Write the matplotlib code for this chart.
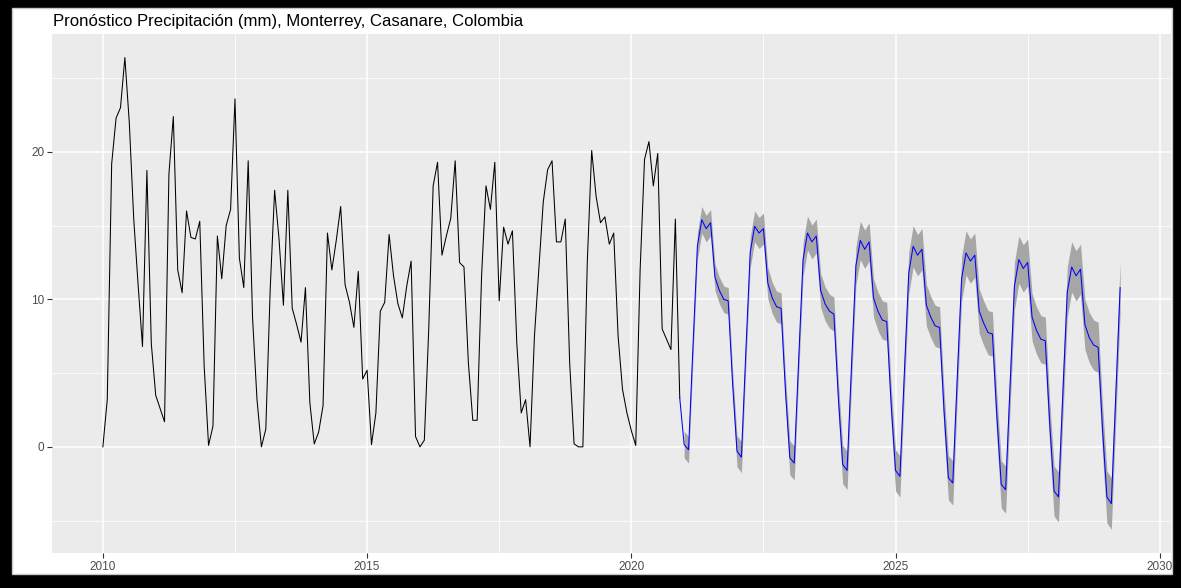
#precipitation forecast chart: observed series + forecast with prediction band

import numpy as np
import matplotlib.pyplot as plt
from matplotlib.patches import Rectangle

plt.rcParams['font.family'] = ['Liberation Sans', 'DejaVu Sans']

#monthly precipitation (mm), Jan 2010 - Dec 2020
observed = [
    0.0, 3.2, 19.2, 22.3, 23.0, 26.4, 22.0, 15.5, 11.0, 6.8, 18.75, 7.0,
    3.5, 2.6, 1.7, 18.5, 22.4, 12.0, 10.45, 16.0, 14.2, 14.1, 15.3, 5.5,
    0.1, 1.4, 14.3, 11.4, 15.0, 16.1, 23.6, 12.8, 10.8, 19.4, 8.7, 3.2,
    0.0, 1.2, 10.7, 17.4, 14.1, 9.6, 17.4, 9.4, 8.3, 7.1, 10.8, 3.0,
    0.2, 1.0, 2.8, 14.5, 12.0, 14.0, 16.3, 11.0, 9.8, 8.1, 11.9, 4.6,
    5.2, 0.15, 2.3, 9.2, 9.8, 14.4, 11.6, 9.7, 8.75, 10.9, 12.6, 0.7,
    0.0, 0.45, 8.0, 17.7, 19.3, 13.0, 14.3, 15.5, 19.4, 12.5, 12.2, 5.7,
    1.8, 1.8, 11.6, 17.7, 16.1, 19.3, 9.9, 14.9, 13.75, 14.65, 7.0, 2.3,
    3.2, 0.0, 7.5, 12.0, 16.6, 18.8, 19.4, 13.9, 13.9, 15.45, 5.7, 0.2,
    0.0, 0.0, 12.5, 20.1, 17.0, 15.2, 15.6, 13.75, 14.5, 7.5, 3.9, 2.3,
    1.1, 0.1, 12.0, 19.5, 20.7, 17.7, 19.9, 8.0, 7.3, 6.6, 15.45, 3.3,
]

#forecast (mm), Jan 2021 - Apr 2029
forecast = [
    0.15, -0.2, 6.8, 13.6, 15.4, 14.8, 15.2, 11.5, 10.6, 10.0, 9.9, 4.3,
    -0.3, -0.7, 6.4, 13.2, 14.96, 14.5, 14.8, 11.1, 10.1, 9.5, 9.4, 3.8,
    -0.75, -1.1, 5.9, 12.7, 14.5, 13.9, 14.3, 10.6, 9.7, 9.2, 9.0, 3.4,
    -1.2, -1.6, 5.5, 12.3, 14.0, 13.4, 13.9, 10.1, 9.2, 8.6, 8.5, 2.9,
    -1.6, -2.0, 5.0, 11.8, 13.6, 13.0, 13.4, 9.6, 8.8, 8.2, 8.1, 2.5,
    -2.1, -2.45, 4.6, 11.4, 13.15, 12.6, 13.0, 9.2, 8.4, 7.75, 7.65, 2.1,
    -2.55, -2.9, 4.1, 10.9, 12.7, 12.1, 12.5, 8.8, 7.9, 7.3, 7.2, 1.6,
    -3.0, -3.4, 3.7, 10.5, 12.2, 11.6, 12.05, 8.3, 7.4, 6.9, 6.75, 1.2,
    -3.4, -3.85, 3.4, 10.8,
]

#half width of the prediction band, one value per forecast year
band_half = [0.9, 1.05, 1.15, 1.3, 1.4, 1.5, 1.6, 1.7, 1.75]

start_year = 2010
x_ticks = [2010, 2015, 2020, 2025, 2030]
y_ticks = [0, 10, 20]
title = "Pronóstico Precipitación (mm), Monterrey, Casanare, Colombia"

t_obs = start_year + np.arange(len(observed)) / 12
t_fc = t_obs[-1] + (np.arange(len(forecast)) + 1) / 12
half = np.repeat(band_half, 12)[:len(forecast)]
lo = np.array(forecast) - half
hi = np.array(forecast) + half

W, H = 1181, 588
fig = plt.figure(figsize=(W / 100, H / 100), dpi=100)
fig.patch.set_facecolor('black')
#white page inside the black frame (behind the axes)
fig.add_artist(Rectangle((12 / W, 14 / H), 1160 / W, 566 / H, transform=fig.transFigure,
                         facecolor='white', edgecolor='#c8c8c8', lw=1, zorder=-10))

ax = fig.add_axes([52 / W, 35 / H, 1119 / W, 519 / H])
ax.set_facecolor('#EBEBEB')

ax.fill_between(t_fc, lo, hi, color='#A6A6A6', lw=0, zorder=2)
ax.plot(t_obs, observed, color='black', lw=0.75, zorder=3)
ax.plot(np.r_[t_obs[-1], t_fc], np.r_[observed[-1], forecast], color='blue', lw=0.75, zorder=4)

#ggplot style 5% expansion
x0, x1 = t_obs[0], t_fc[-1]
y0, y1 = min(lo.min(), min(observed)), max(hi.max(), max(observed))
ax.set_xlim(x0 - 0.05 * (x1 - x0), x1 + 0.05 * (x1 - x0))
ax.set_ylim(y0 - 0.05 * (y1 - y0), y1 + 0.05 * (y1 - y0))

ax.set_xticks(x_ticks)
ax.set_xticks([v + 2.5 for v in x_ticks[:-1]], minor=True)
ax.set_yticks(y_ticks)
ax.set_yticks([-5, 5, 15, 25], minor=True)
ax.set_axisbelow(True)
ax.grid(which='major', color='white', lw=1.1)
ax.grid(which='minor', color='white', lw=0.55)
for s in ax.spines.values():
    s.set_visible(False)
ax.tick_params(which='major', length=3.5, width=0.8, color='#333333',
               labelcolor='#4D4D4D', labelsize=8.5, pad=2)
ax.tick_params(which='minor', length=0)

fig.text(53 / W, 1 - 26 / H, title, fontsize=12.1, ha='left', va='baseline', color='black')

fig.savefig('out.png', dpi=100)
